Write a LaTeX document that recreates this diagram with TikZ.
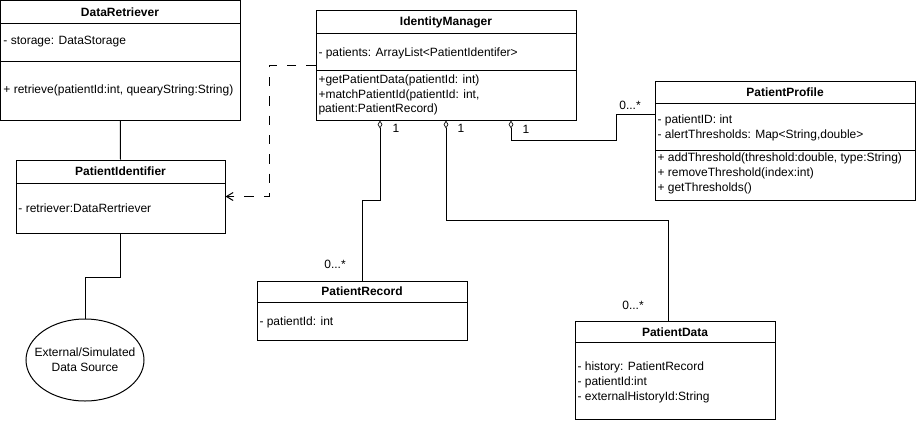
\documentclass[tikz,border=0pt]{standalone}
\usepackage{fontspec}
\setmainfont{Liberation Sans}
\usetikzlibrary{arrows.meta,fit,calc,shapes.geometric}

\tikzset{
  classbox/.style={draw, inner sep=0pt},
  classname/.style={font=\fontsize{9}{11}\selectfont\bfseries, inner sep=0.75pt},
  member/.style={anchor=west, inner sep=0.75pt, align=left},
  mult/.style={inner sep=0.75pt},
  aggr/.style={{Diamond[open,length=6pt,width=3.5pt,line width=0.5pt]}-},
  depend/.style={dash pattern=on 7pt off 7.5pt, -{Straight Barb[length=5pt,width=6pt]}},
}

\begin{document}
\begin{tikzpicture}[x=0.75pt,y=0.75pt,yscale=-1,xscale=1,line width=0.75pt,
    font=\fontsize{9}{11}\selectfont]
    \useasboundingbox (0,0) rectangle (916,421);

    % DataRetriever
    \node[classbox, fit={(0.5,0.5) (240,120)}] (retr) {};
    \draw (0.5,23) -- (240,23) ;
    \draw (0.5,61) -- (240,61) ;
    \node[classname] (retrT) at (120,12) {DataRetriever};
    \node[member] (retrA) at (2,42) {- storage: DataStorage};
    \node[member] (retrM) at (2,90) {+ retrieve(patientId:int, quearyString:String)};

    % PatientIdentifier
    \node[classbox, fit={(16,160) (225,233)}] (ident) {};
    \draw (16,183) -- (225,183) ;
    \node[classname] (identT) at (120.5,171.5) {PatientIdentifier};
    \node[member] (identA) at (17,208) {- retriever:DataRertriever};

    % data source
    \node[draw, ellipse, minimum width=88.5pt, minimum height=61.5pt, inner sep=0pt] (src) at (85,360) {};
    \node[align=center, inner sep=0.75pt] (srcT) at (src.center) {External/Simulated\\Data Source};

    % IdentityManager
    \node[classbox, fit={(316,10) (576,120)}] (mgr) {};
    \draw (316,33) -- (576,33) ;
    \draw (316,70) -- (576,70) ;
    \node[classname] (mgrT) at (446,22) {IdentityManager};
    \node[member] (mgrA) at (317,53) {- patients: ArrayList<PatientIdentifer>};
    \node[member] (mgrM) at (317,95) {+getPatientData(patientId: int)\\+matchPatientId(patientId: int,\\patient:PatientRecord)};

    % PatientProfile
    \node[classbox, fit={(655,81) (915,200)}] (prof) {};
    \draw (655,103) -- (915,103) ;
    \draw (655,150) -- (915,150) ;
    \node[classname] (profT) at (785,92) {PatientProfile};
    \node[member] (profA) at (656,128) {- patientID: int\\- alertThresholds: Map<String,double>};
    \node[member] (profM) at (656,173.5) {+ addThreshold(threshold:double, type:String)\\+ removeThreshold(index:int)\\+ getThresholds()};

    % PatientRecord
    \node[classbox, fit={(257,281) (467,340)}] (rec) {};
    \draw (257,302) -- (467,302) ;
    \node[classname] (recT) at (362,291.5) {PatientRecord};
    \node[member] (recA) at (258,322) {- patientId: int};

    % PatientData
    \node[classbox, fit={(575,321) (775,419)}] (pdata) {};
    \draw (575,342) -- (775,342) ;
    \node[classname] (pdataT) at (675,332) {PatientData};
    \node[member] (pdataA) at (576,382.5) {- history: PatientRecord\\- patientId:int\\- externalHistoryId:String};

    % connectors
    \draw (retr.south) -- (ident.north) ;
    \draw (ident.south) -- ++(0,44) -| (src.north) ;
    \draw[depend] (mgr.west) -- ++(-46,0) |- (ident.east) ;
    \draw[aggr] ($(mgr.south)+(-66,0)$) -- ++(0,80) -| (rec.north) ;
    \draw[aggr] (mgr.south) -- ++(0,100) -| ($(pdata.north)+(-7,0)$) ;
    \draw[aggr] ($(mgr.south)+(65,0)$) |- ++(105,20) |- ($(prof.north west)+(0,34)$) ;

    % multiplicities
    \node[mult] (m1) at (396,128) {1};
    \node[mult] (m2) at (461,128) {1};
    \node[mult] (m3) at (526,129) {1};
    \node[mult] (recM) at (335,264) {0...*};
    \node[mult] (pdataM) at (633,305) {0...*};
    \node[mult] (profMult) at (630,105) {0...*};
\end{tikzpicture}
\end{document}
